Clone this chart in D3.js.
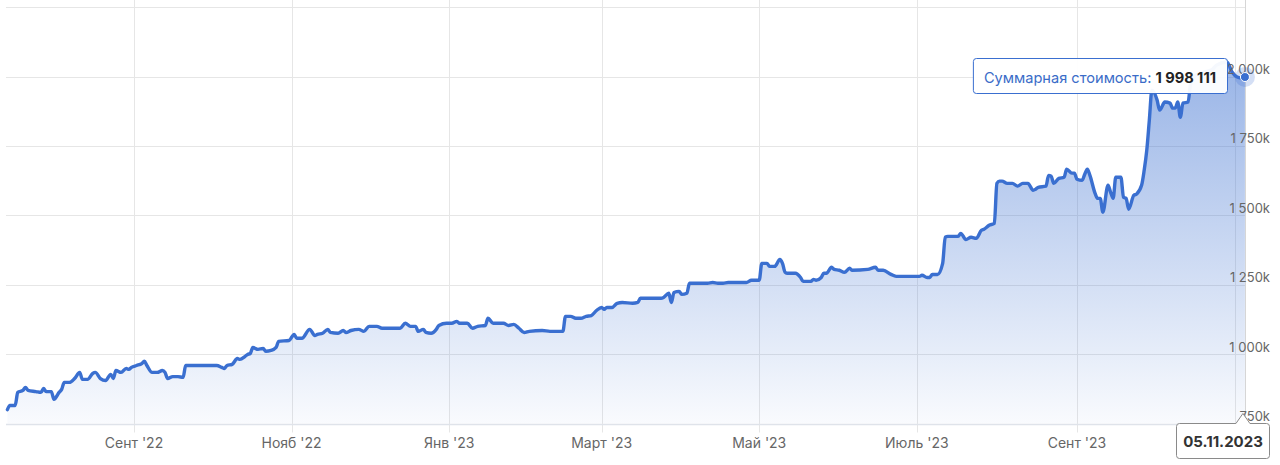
<!DOCTYPE html>
<html><head><meta charset="utf-8">
<script src="https://cdn.jsdelivr.net/npm/d3@7"></script>
<style>
body{margin:0;background:#fff;}
svg{display:block;font-family:Inter,"Liberation Sans",sans-serif;}
</style>
</head><body><svg id="c" width="1280" height="465"></svg>
<script>
const dates = ["2022-07-14","2022-07-15","2022-07-17","2022-07-18","2022-07-20","2022-07-21","2022-07-22","2022-07-25","2022-07-27","2022-07-28","2022-07-29","2022-07-31",
"2022-08-01","2022-08-03","2022-08-04","2022-08-05","2022-08-07","2022-08-09","2022-08-11","2022-08-12","2022-08-14","2022-08-16","2022-08-17","2022-08-19","2022-08-21","2022-08-23","2022-08-24","2022-08-25","2022-08-27","2022-08-29","2022-08-30","2022-08-31",
"2022-09-02","2022-09-04","2022-09-05","2022-09-06","2022-09-08","2022-09-10","2022-09-12","2022-09-13","2022-09-14","2022-09-16","2022-09-18","2022-09-20","2022-09-21","2022-09-23",
"2022-10-03","2022-10-05","2022-10-06","2022-10-07","2022-10-09","2022-10-11","2022-10-12","2022-10-14","2022-10-15","2022-10-16","2022-10-17","2022-10-19","2022-10-21","2022-10-22","2022-10-24","2022-10-26","2022-10-27","2022-10-31",
"2022-11-02","2022-11-03","2022-11-05","2022-11-08","2022-11-10","2022-11-11","2022-11-13","2022-11-15","2022-11-16","2022-11-19","2022-11-21","2022-11-22","2022-11-24","2022-11-27","2022-11-29",
"2022-12-01","2022-12-04","2022-12-06","2022-12-10","2022-12-13","2022-12-15","2022-12-17","2022-12-19","2022-12-20","2022-12-22","2022-12-23","2022-12-25","2022-12-27","2022-12-28","2022-12-31",
"2023-01-02","2023-01-04","2023-01-05","2023-01-08","2023-01-10","2023-01-12","2023-01-15","2023-01-16","2023-01-18","2023-01-19","2023-01-22","2023-01-24","2023-01-26","2023-01-28","2023-01-30",
"2023-02-01","2023-02-06","2023-02-09","2023-02-14","2023-02-15","2023-02-17","2023-02-19","2023-02-21","2023-02-23","2023-02-25","2023-02-27",
"2023-03-01","2023-03-02","2023-03-03","2023-03-05","2023-03-07","2023-03-09","2023-03-13","2023-03-15","2023-03-16","2023-03-19","2023-03-24","2023-03-25","2023-03-27","2023-03-28","2023-03-29","2023-03-31",
"2023-04-01","2023-04-03","2023-04-04","2023-04-05","2023-04-11","2023-04-13","2023-04-15","2023-04-17","2023-04-19","2023-04-26","2023-04-28",
"2023-05-01","2023-05-02","2023-05-04","2023-05-05","2023-05-07","2023-05-09","2023-05-10","2023-05-11","2023-05-12","2023-05-15","2023-05-17","2023-05-18","2023-05-21","2023-05-22","2023-05-23","2023-05-25","2023-05-26","2023-05-27","2023-05-29","2023-05-30",
"2023-06-01","2023-06-03","2023-06-05","2023-06-06","2023-06-12","2023-06-15","2023-06-16","2023-06-18","2023-06-21","2023-06-23",
"2023-07-02","2023-07-03","2023-07-05","2023-07-06","2023-07-07","2023-07-09","2023-07-11","2023-07-12","2023-07-13","2023-07-17","2023-07-18","2023-07-20","2023-07-22","2023-07-24","2023-07-26","2023-07-27","2023-07-29","2023-07-31",
"2023-08-01","2023-08-02","2023-08-03","2023-08-05","2023-08-07","2023-08-09","2023-08-11","2023-08-13","2023-08-15","2023-08-16","2023-08-17","2023-08-20","2023-08-21","2023-08-22","2023-08-23","2023-08-25","2023-08-27","2023-08-28","2023-08-30","2023-08-31",
"2023-09-01","2023-09-03","2023-09-04","2023-09-05","2023-09-06","2023-09-08","2023-09-09","2023-09-10","2023-09-11","2023-09-13","2023-09-14","2023-09-15","2023-09-16","2023-09-18","2023-09-19","2023-09-20","2023-09-21","2023-09-23","2023-09-24","2023-09-26","2023-09-27","2023-09-28","2023-09-29","2023-09-30",
"2023-10-02","2023-10-03","2023-10-05","2023-10-07","2023-10-08","2023-10-09","2023-10-10","2023-10-11","2023-10-12","2023-10-14","2023-10-15","2023-10-17","2023-10-20","2023-10-23","2023-10-25","2023-10-29","2023-10-31",
"2023-11-02","2023-11-04","2023-11-05"];
const valuesK = [800,815,815,862,869,880,869,865,862,876,865,865,
837,862,873,898,898,912,934,909,909,930,934,912,905,927,912,941,934,948,945,952,
959,966,974,959,934,934,941,934,912,919,919,916,959,959,
959,952,948,959,963,984,981,992,999,1002,1024,1017,1020,1010,1013,1024,1046,1049,
1071,1057,1057,1089,1067,1071,1075,1089,1078,1075,1085,1078,1085,1089,1082,
1100,1100,1093,1093,1093,1111,1100,1100,1082,1089,1078,1075,1089,1103,1111,
1111,1118,1111,1111,1093,1100,1103,1129,1111,1111,1111,1103,1107,1093,1078,
1082,1085,1082,1082,1136,1136,1129,1129,1136,1139,1157,
1168,1161,1168,1168,1183,1186,1183,1186,1201,1201,1201,1204,1219,1186,1222,1226,
1215,1219,1255,1255,1255,1258,1255,1255,1258,1258,1266,
1266,1327,1327,1316,1316,1341,1327,1295,1291,1291,1276,1262,1262,1269,1266,1276,1291,1291,1313,1305,
1302,1295,1309,1302,1305,1313,1302,1302,1287,1280,
1280,1284,1276,1276,1287,1287,1327,1421,1424,1424,1435,1413,1421,1417,1446,1450,1464,1471,
1615,1623,1623,1615,1615,1605,1615,1615,1590,1594,1601,1605,1644,1641,1615,1633,1637,1666,1652,1652,
1630,1626,1648,1666,1644,1579,1561,1561,1511,1608,1583,1561,1637,1637,1565,1561,1522,1572,1576,1608,1662,1734,1843,1951,
1915,1879,1908,1904,1886,1886,1908,1853,1904,1908,1976,2005,2016,2023,2041,2052,2016,
1998,1994,1998.111];

// Nov '23 tick has a gridline but its label is hidden behind the date flag in the reference
const xTickDates = ["2022-09-01","2022-11-01","2023-01-01","2023-03-01","2023-05-01","2023-07-01","2023-09-01","2023-11-01"];
const xTickLabels = ["Сент '22","Нояб '22","Янв '23","Март '23","Май '23","Июль '23","Сент '23",""];
const yTickValues = [750000,1000000,1250000,1500000,1750000,2000000,2250000];
const yTickLabels = ["750k","1 000k","1 250k","1 500k","1 750k","2 000k",""];
const tooltipLabel = "Суммарная стоимость: ";
const tooltipValue = "1 998 111";
const hoverDateLabel = "05.11.2023";

(function(){
const parse = d3.timeParse("%Y-%m-%d");
const data = dates.map((d,i)=>({date:parse(d), value:valuesK[i]*1000}));

const svg = d3.select("#c");
const color = "#3a6fd0";
const plotLeft = 6, plotRight = 1246;

const x = d3.scaleTime().domain([parse("2022-09-01"), parse("2023-09-01")]).range([134,1077]);
const y = d3.scaleLinear().domain([750000,2000000]).range([423.5,76.5]);
const plotBottom = y(750000);

const defs = svg.append("defs");
const grad = defs.append("linearGradient").attr("id","g").attr("gradientUnits","userSpaceOnUse")
  .attr("x1",0).attr("x2",0).attr("y1",y(2000000)).attr("y2",plotBottom);
grad.append("stop").attr("offset",0).attr("stop-color",color).attr("stop-opacity",0.5);
grad.append("stop").attr("offset",1).attr("stop-color",color).attr("stop-opacity",0.03);

svg.append("g").selectAll("line").data(yTickValues).join("line")
  .attr("x1",plotLeft).attr("x2",plotRight)
  .attr("y1",d=>Math.round(y(d))+0.5).attr("y2",d=>Math.round(y(d))+0.5)
  .attr("stroke","#e6e6e6").attr("stroke-width",1);

const xt = xTickDates.map(parse);
svg.append("g").selectAll("line").data(xt).join("line")
  .attr("x1",d=>Math.round(x(d))+0.5).attr("x2",d=>Math.round(x(d))+0.5)
  .attr("y1",0).attr("y2",plotBottom+9)
  .attr("stroke","#e6e6e6").attr("stroke-width",1);

const last = data[data.length-1];
svg.append("line").attr("x1",Math.round(x(last.date))+0.5).attr("x2",Math.round(x(last.date))+0.5)
  .attr("y1",0).attr("y2",plotBottom).attr("stroke","#d6d6d6").attr("stroke-width",1);

const curve = d3.curveMonotoneX;
svg.append("path").datum(data)
  .attr("d", d3.area().x(d=>x(d.date)).y0(plotBottom).y1(d=>y(d.value)).curve(curve))
  .attr("fill","url(#g)");

svg.append("line").attr("x1",plotLeft).attr("x2",plotRight)
  .attr("y1",Math.round(plotBottom)+0.5).attr("y2",Math.round(plotBottom)+0.5)
  .attr("stroke","#dfe3ea").attr("stroke-width",1.5);

svg.append("path").datum(data)
  .attr("d", d3.line().x(d=>x(d.date)).y(d=>y(d.value)).curve(curve))
  .attr("fill","none").attr("stroke",color).attr("stroke-width",3.4)
  .attr("stroke-linejoin","round").attr("stroke-linecap","round");

svg.append("g").selectAll("text").data(xt.filter((d,i)=>xTickLabels[i])).join("text")
  .attr("x",d=>x(d)).attr("y",447.5).attr("text-anchor","middle")
  .attr("font-size",14).attr("fill","#666")
  .text((d,i)=>xTickLabels[i]);

svg.append("g").selectAll("text").data(yTickValues.filter((d,i)=>yTickLabels[i])).join("text")
  .attr("x",1270).attr("y",d=>y(d)-2.5).attr("text-anchor","end")
  .attr("font-size",13).attr("fill","#666")
  .text((d,i)=>yTickLabels[i]);

const lx = x(last.date), ly = y(last.value);
svg.append("circle").attr("cx",lx).attr("cy",ly).attr("r",10).attr("fill",color).attr("opacity",0.22);
svg.append("circle").attr("cx",lx).attr("cy",ly).attr("r",4.5).attr("fill",color).attr("stroke","#fff").attr("stroke-width",1);

const tt = svg.append("g");
const ttRect = tt.append("rect");
const ttText = tt.append("text").attr("font-size",14.6).attr("y",82.5);
ttText.append("tspan").attr("fill","#3a6cc8").text(tooltipLabel);
ttText.append("tspan").attr("fill","#222").attr("font-weight","bold").text(tooltipValue);
const tw = ttText.node().getComputedTextLength();
const ttRight = 1227, ttW = tw + 22, ttLeft = ttRight - ttW;
ttText.attr("x", ttLeft + 11);
ttRect.attr("x",ttLeft+0.5).attr("y",58.5).attr("width",ttW).attr("height",35).attr("rx",3)
  .attr("fill","#fff").attr("fill-opacity",0.95).attr("stroke",color).attr("stroke-width",1);

const bTop = 423.5, bBottom = 458.5, bLeft = 1176.5, bRight = 1269.5, r = 3, ax = lx - 2, ah = 10, aw = 7;
svg.append("path")
  .attr("d",`M${bLeft+r},${bTop} L${ax-aw},${bTop} L${ax},${bTop-ah} L${ax+aw},${bTop} L${bRight-r},${bTop} Q${bRight},${bTop} ${bRight},${bTop+r} L${bRight},${bBottom-r} Q${bRight},${bBottom} ${bRight-r},${bBottom} L${bLeft+r},${bBottom} Q${bLeft},${bBottom} ${bLeft},${bBottom-r} L${bLeft},${bTop+r} Q${bLeft},${bTop} ${bLeft+r},${bTop} Z`)
  .attr("fill","#fff").attr("stroke","#8a8a8a").attr("stroke-width",1);
svg.append("text").attr("x",(bLeft+bRight)/2).attr("y",446.5).attr("text-anchor","middle")
  .attr("font-size",15).attr("font-weight","bold").attr("fill","#333").text(hoverDateLabel);
})();
</script>
</body></html>
